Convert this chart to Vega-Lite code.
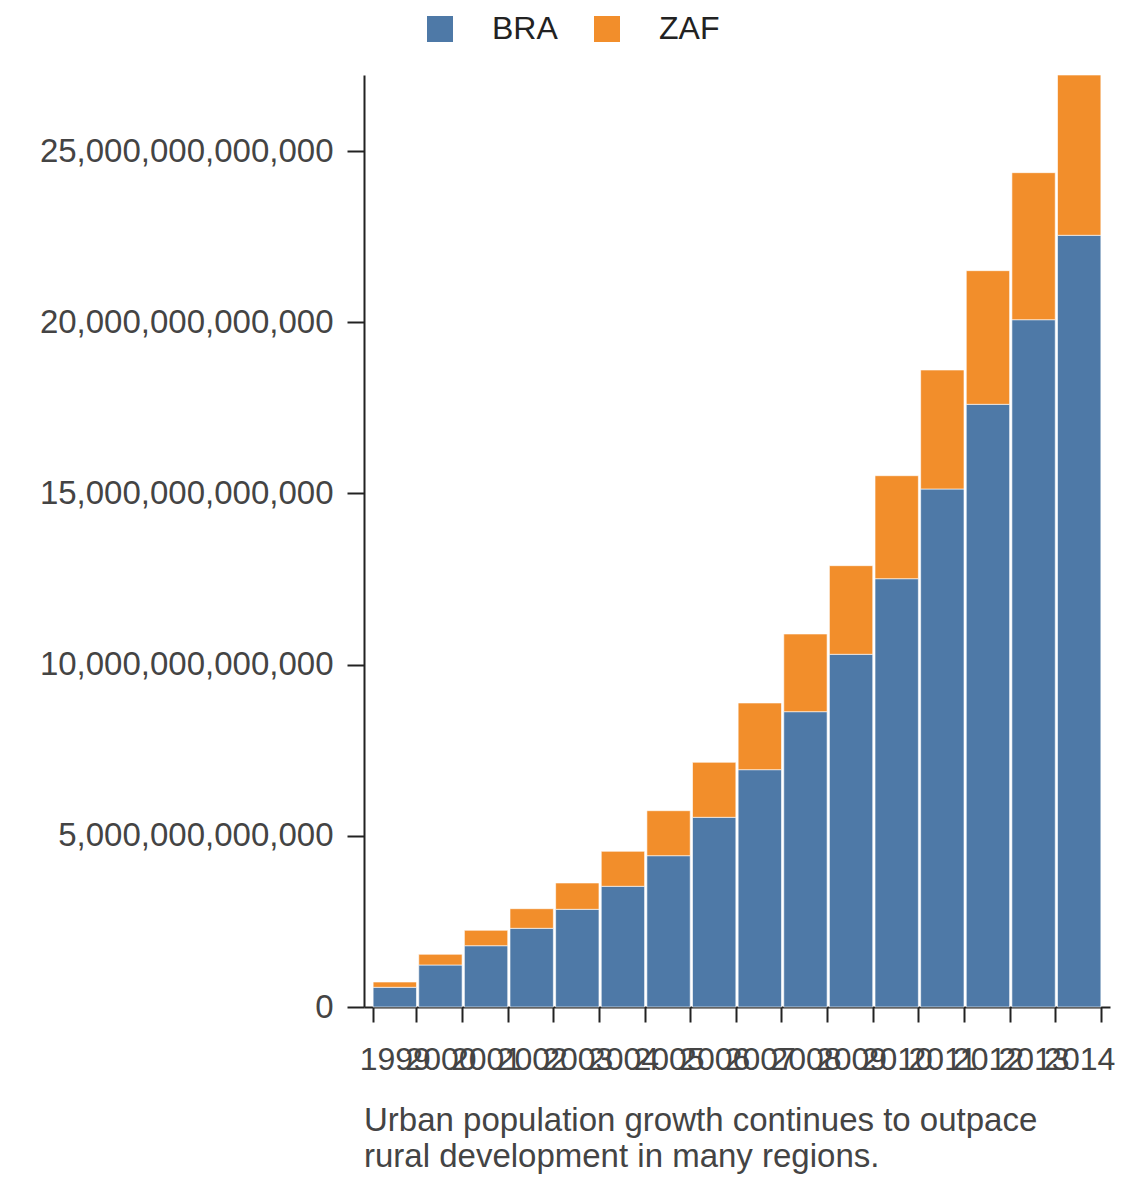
{
  "$schema": "https://vega.github.io/schema/vega-lite/v6.json",
  "width": 746,
  "height": 932,
  "autosize": {"type": "none"},
  "padding": {"left": 364, "top": 75, "right": 30, "bottom": 175},
  "background": "white",
  "config": {
    "font": "Liberation Sans",
    "view": {"stroke": null}
  },
  "title": {
    "text": ["Urban population growth continues to outpace", "rural development in many regions."],
    "orient": "bottom",
    "anchor": "start",
    "frame": "group",
    "fontSize": 33,
    "fontWeight": "normal",
    "color": "#444444",
    "lineHeight": 36,
    "offset": 30
  },
  "data": {
    "values": [
      {"year": "1999", "country": "BRA", "value": 575000000000},
      {"year": "1999", "country": "ZAF", "value": 155000000000},
      {"year": "2000", "country": "BRA", "value": 1227000000000},
      {"year": "2000", "country": "ZAF", "value": 312000000000},
      {"year": "2001", "country": "BRA", "value": 1790000000000},
      {"year": "2001", "country": "ZAF", "value": 450000000000},
      {"year": "2002", "country": "BRA", "value": 2298000000000},
      {"year": "2002", "country": "ZAF", "value": 573000000000},
      {"year": "2003", "country": "BRA", "value": 2853000000000},
      {"year": "2003", "country": "ZAF", "value": 769000000000},
      {"year": "2004", "country": "BRA", "value": 3525000000000},
      {"year": "2004", "country": "ZAF", "value": 1022000000000},
      {"year": "2005", "country": "BRA", "value": 4419000000000},
      {"year": "2005", "country": "ZAF", "value": 1314000000000},
      {"year": "2006", "country": "BRA", "value": 5540000000000},
      {"year": "2006", "country": "ZAF", "value": 1607000000000},
      {"year": "2007", "country": "BRA", "value": 6931000000000},
      {"year": "2007", "country": "ZAF", "value": 1948000000000},
      {"year": "2008", "country": "BRA", "value": 8625000000000},
      {"year": "2008", "country": "ZAF", "value": 2269000000000},
      {"year": "2009", "country": "BRA", "value": 10301000000000},
      {"year": "2009", "country": "ZAF", "value": 2588000000000},
      {"year": "2010", "country": "BRA", "value": 12509000000000},
      {"year": "2010", "country": "ZAF", "value": 3008000000000},
      {"year": "2011", "country": "BRA", "value": 15129000000000},
      {"year": "2011", "country": "ZAF", "value": 3475000000000},
      {"year": "2012", "country": "BRA", "value": 17602000000000},
      {"year": "2012", "country": "ZAF", "value": 3903000000000},
      {"year": "2013", "country": "BRA", "value": 20073000000000},
      {"year": "2013", "country": "ZAF", "value": 4294000000000},
      {"year": "2014", "country": "BRA", "value": 22538000000000},
      {"year": "2014", "country": "ZAF", "value": 4682000000000}
    ]
  },
  "mark": {"type": "bar", "stroke": "white", "strokeWidth": 1, "strokeOpacity": 0.6},
  "encoding": {
    "x": {
      "field": "year",
      "type": "ordinal",
      "scale": {"paddingInner": 0.05, "paddingOuter": 0.2},
      "axis": {
        "title": null,
        "labelAngle": 0,
        "labelOverlap": false,
        "tickBand": "extent",
        "tickSize": 15,
        "tickWidth": 2,
        "tickColor": "#222222",
        "domainColor": "#222222",
        "domainWidth": 2,
        "labelFontSize": 32,
        "labelColor": "#444444",
        "labelPadding": 22
      }
    },
    "y": {
      "field": "value",
      "type": "quantitative",
      "stack": "zero",
      "scale": {"nice": false, "zero": true},
      "axis": {
        "title": null,
        "grid": false,
        "values": [0, 5000000000000, 10000000000000, 15000000000000, 20000000000000, 25000000000000],
        "format": ",d",
        "tickSize": 17,
        "tickWidth": 2,
        "tickColor": "#222222",
        "domainColor": "#222222",
        "domainWidth": 2,
        "labelFontSize": 33,
        "labelLimit": 0,
        "labelColor": "#444444",
        "labelPadding": 14
      }
    },
    "order": {"field": "country", "sort": "ascending"},
    "color": {
      "field": "country",
      "type": "nominal",
      "scale": {"domain": ["BRA", "ZAF"], "range": ["#4e79a7", "#f28e2b"]},
      "legend": {
        "title": null,
        "orient": "none",
        "legendX": 60,
        "legendY": -62,
        "direction": "horizontal",
        "symbolType": "square",
        "symbolSize": 676,
        "symbolStrokeWidth": 0,
        "labelFontSize": 32,
        "labelColor": "#222222",
        "labelOffset": 36,
        "columnPadding": 33
      }
    }
  }
}
